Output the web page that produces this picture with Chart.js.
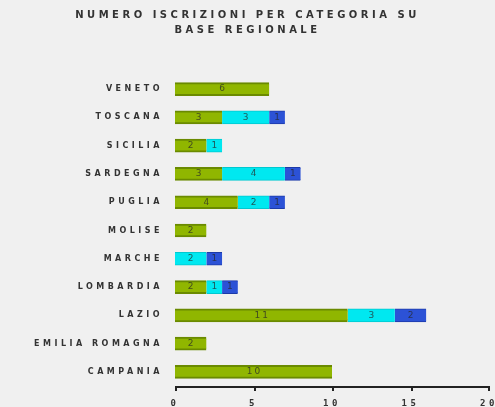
<!DOCTYPE html>
<html>
<head>
<meta charset="utf-8">
<script src="https://cdn.jsdelivr.net/npm/chart.js@4/dist/chart.umd.min.js"></script>
<style>
  html, body { margin: 0; padding: 0; background: #f0f0f0; }
  #wrap { width: 495px; height: 407px; position: relative; }
</style>
</head>
<body>
<div id="wrap"><canvas id="chart"></canvas></div>
<script>
const regions = ["VENETO", "TOSCANA", "SICILIA", "SARDEGNA", "PUGLIA", "MOLISE",
  "MARCHE", "LOMBARDIA", "LAZIO", "EMILIA ROMAGNA", "CAMPANIA"];
const greenValues = [6, 3, 2, 3, 4, 2, 0, 2, 11, 2, 10];
const cyanValues  = [0, 3, 1, 4, 2, 0, 2, 1, 3, 0, 0];
const blueValues  = [0, 1, 0, 1, 1, 0, 1, 1, 2, 0, 0];
const xTicks = [0, 5, 10, 15, 20];

const fontFamily = "'DejaVu Sans', sans-serif";

// canvas has no letter-spacing option in Chart.js, so set it on the context
const spacingPlugin = {
  id: "spacing",
  beforeUpdate(chart) { chart.ctx.letterSpacing = "3.5px"; },
  beforeDraw(chart) { chart.ctx.letterSpacing = "3.5px"; }
};

// x axis line + tick marks, positions taken from the x scale
const axisPlugin = {
  id: "axisLine",
  afterDraw(chart) {
    const x = chart.scales.x;
    const ctx = chart.ctx;
    const y = Math.round(x.top);
    ctx.save();
    ctx.fillStyle = "#222";
    ctx.fillRect(x.left, y, x.right - x.left + 1, 2);
    xTicks.forEach(v => {
      const px = Math.round(x.getPixelForValue(v));
      ctx.fillRect(Math.min(px, Math.round(x.right) - 1), y, 2, 5);
    });
    ctx.restore();
  }
};

const valuePlugin = {
  id: "values",
  afterDatasetsDraw(chart) {
    const ctx = chart.ctx;
    ctx.save();
    ctx.letterSpacing = "2px";
    ctx.font = "9px " + fontFamily;
    ctx.fillStyle = "rgba(40,40,40,0.75)";
    ctx.textAlign = "center";
    ctx.textBaseline = "middle";
    chart.data.datasets.forEach((ds, i) => {
      chart.getDatasetMeta(i).data.forEach((bar, j) => {
        const v = ds.data[j];
        if (!v) return;
        ctx.fillText(String(v), (bar.x + bar.base) / 2 + 1, bar.y);
      });
    });
    ctx.restore();
  }
};

const ctx = document.getElementById("chart").getContext("2d");
new Chart(ctx, {
  type: "bar",
  data: {
    labels: regions,
    datasets: [
      { data: greenValues, backgroundColor: "#90b600", borderColor: "#6a8a00",
        borderWidth: { top: 2, bottom: 2, left: 0, right: 0 }, borderSkipped: false },
      { data: cyanValues, backgroundColor: "#00e8f0", borderColor: "#00c8d0",
        borderWidth: { top: 1, bottom: 1, left: 0, right: 0 }, borderSkipped: false },
      { data: blueValues, backgroundColor: "#2c52d6", borderColor: "#1c3aa8",
        borderWidth: { top: 1, bottom: 1, left: 0, right: 0 }, borderSkipped: false }
    ]
  },
  options: {
    indexAxis: "y",
    responsive: true,
    maintainAspectRatio: false,
    animation: false,
    barThickness: 13,
    layout: { padding: { left: 0, right: 0, top: 0, bottom: 0 } },
    plugins: {
      legend: { display: false },
      tooltip: { enabled: false },
      title: {
        display: true,
        text: ["NUMERO ISCRIZIONI PER CATEGORIA SU", "BASE REGIONALE"],
        color: "#333",
        font: { family: fontFamily, size: 10, weight: "bold", lineHeight: 1.5 },
        padding: { top: 8, bottom: 37 }
      }
    },
    scales: {
      x: {
        stacked: true,
        min: 0,
        max: 20,
        afterBuildTicks(scale) { scale.ticks = xTicks.map(v => ({ value: v })); },
        afterFit(scale) { scale.height = 21; scale.paddingRight = 6; },
        grid: { display: false, tickLength: 4 },
        border: { display: false },
        ticks: {
          color: "#333",
          font: { family: "'DejaVu Sans Mono', monospace", size: 9, weight: "bold" },
          padding: 8,
          maxRotation: 0
        }
      },
      y: {
        stacked: true,
        afterFit(scale) { scale.width = 175; },
        grid: { display: false },
        border: { display: false },
        ticks: {
          color: "#333",
          font: { family: fontFamily, size: 8, weight: "bold" },
          padding: 4
        }
      }
    }
  },
  plugins: [spacingPlugin, valuePlugin, axisPlugin]
});
</script>
</body>
</html>
